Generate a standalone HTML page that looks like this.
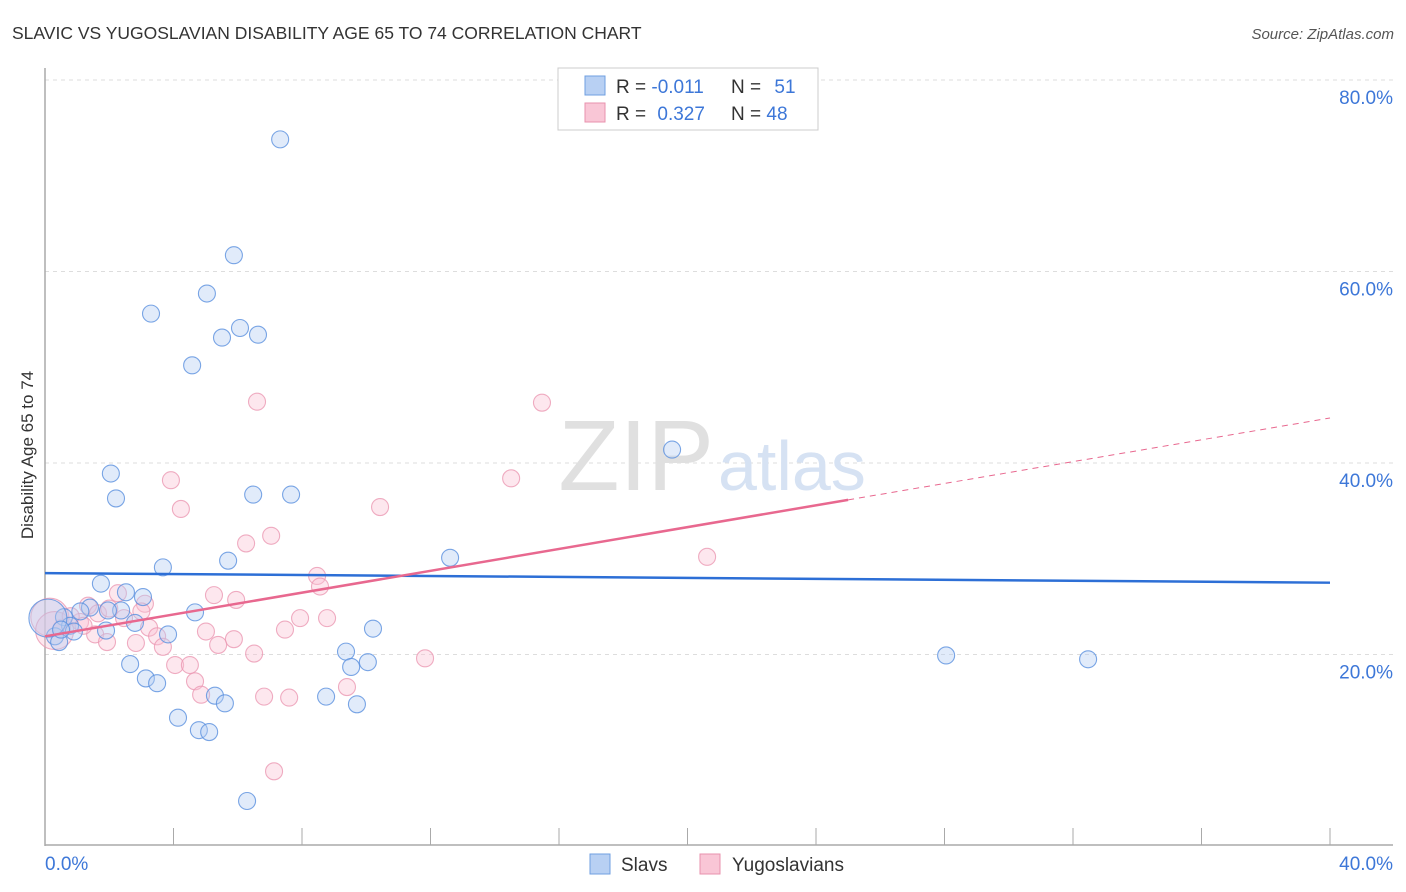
<!DOCTYPE html>
<html><head><meta charset="utf-8">
<style>
body{margin:0;background:#fff;font-family:"Liberation Sans",sans-serif;}
#wrap{position:relative;width:1406px;height:892px;overflow:hidden;}
svg text{font-family:"Liberation Sans",sans-serif;}
</style></head>
<body>
<div id="wrap">
<svg id="chart" width="1406" height="892">
<text x="12" y="39" font-size="17.5" fill="#333">SLAVIC VS YUGOSLAVIAN DISABILITY AGE 65 TO 74 CORRELATION CHART</text>
<text x="1394" y="39" font-size="15" fill="#555" font-style="italic" text-anchor="end">Source: ZipAtlas.com</text>
<text x="33" y="455" font-size="17" fill="#333" text-anchor="middle" transform="rotate(-90 33 455)">Disability Age 65 to 74</text>
<g id="grid"></g>
<g id="axes"></g>
<text x="714" y="490" font-size="100" font-family="Liberation Serif" fill="#e0e0e0" text-anchor="end">ZIP</text>
<text x="718" y="490" font-size="70" fill="#d6e2f3">atlas</text>
<g id="pts"></g>
<g id="trend"></g>
<g>
<rect x="558" y="68" width="260" height="62" fill="#fff" stroke="#ccc"/>
<rect x="585" y="76" width="20" height="19" fill="#b8d0f3" stroke="#6f9fe0"/>
<rect x="585" y="103" width="20" height="19" fill="#f9c6d6" stroke="#e892ad"/>
<text x="616" y="93" font-size="19" fill="#333">R = <tspan fill="#3d77d8">-0.011</tspan></text>
<text x="731" y="93" font-size="19" fill="#333">N = <tspan fill="#3d77d8" dx="8">51</tspan></text>
<text x="616" y="120" font-size="19" fill="#333">R = <tspan fill="#3d77d8" dx="6">0.327</tspan></text>
<text x="731" y="120" font-size="19" fill="#333">N = <tspan fill="#3d77d8">48</tspan></text>
</g>
<g>
<rect x="590" y="854" width="20" height="20" fill="#b8d0f3" stroke="#6f9fe0"/>
<text x="621" y="871" font-size="19" fill="#333">Slavs</text>
<rect x="700" y="854" width="20" height="20" fill="#f9c6d6" stroke="#e892ad"/>
<text x="732" y="871" font-size="19" fill="#333">Yugoslavians</text>
</g>
</svg>
</div>
<script>
const yTicks=[20,40,60,80];
const yTickLabels=["20.0%","40.0%","60.0%","80.0%"];
const xTicks=[0,4,8,12,16,20,24,28,32,36,40];
const slavX=[7.32,5.88,5.04,3.30,6.07,6.63,5.51,4.58,19.52,2.05,2.21,6.48,7.66,12.61,3.67,5.70,1.74,2.52,3.05,2.37,1.40,1.96,4.67,0.59,2.80,0.78,1.90,3.83,0.31,0.44,0.90,10.21,9.37,9.53,10.05,28.05,32.47,2.65,3.14,3.49,5.29,5.60,8.75,9.71,4.14,4.79,5.11,6.29,0.09,1.10,0.5];
const slavY=[73.8,61.7,57.7,55.6,54.1,53.4,53.1,50.2,41.4,38.9,36.3,36.7,36.7,30.1,29.1,29.8,27.4,26.5,26.0,24.6,24.9,24.6,24.4,23.9,23.3,23.0,22.5,22.1,21.9,21.3,22.4,22.7,20.3,18.7,19.2,19.9,19.5,19.0,17.5,17.0,15.7,14.9,15.6,14.8,13.4,12.1,11.9,4.7,23.8,24.5,22.6];
const yugoX=[6.60,15.47,14.51,3.92,4.23,10.43,7.04,6.26,20.61,8.47,8.56,5.26,2.27,5.95,3.11,1.34,7.94,8.78,1.65,2.46,1.09,0.53,3.24,5.01,7.47,3.49,1.56,5.88,1.93,2.83,3.67,5.39,6.51,11.83,4.05,4.51,4.67,9.40,4.86,6.82,7.60,7.13,0.15,0.3,2.0,1.2,0.8,3.0];
const yugoY=[46.4,46.3,38.4,38.2,35.2,35.4,32.4,31.6,30.2,28.2,27.1,26.2,26.4,25.7,25.3,25.1,23.8,23.8,24.3,23.8,23.4,22.8,22.8,22.4,22.6,21.9,22.1,21.6,21.3,21.2,20.8,21.0,20.1,19.6,18.9,18.9,17.2,16.6,15.8,15.6,15.5,7.8,23.9,22.5,24.8,23.0,24.0,24.5];
const slavTrend=[28.5,-0.025];
const yugoTrend=[21.9,0.57];
const X0=45,X1=1330,Y0=846,PY=9.575;
const sx=v=>X0+(v/40)*(X1-X0);
const sy=v=>Y0-v*PY;
const NS="http://www.w3.org/2000/svg";
function mk(tag,attrs,parent){const e=document.createElementNS(NS,tag);for(const k in attrs)e.setAttribute(k,attrs[k]);parent.appendChild(e);return e;}
const grid=document.getElementById('grid'),axes=document.getElementById('axes'),pts=document.getElementById('pts'),trend=document.getElementById('trend');
yTicks.forEach((t,i)=>{
 const l=mk('line',{x1:45,x2:1393,y1:sy(t),y2:sy(t),stroke:'#ddd','stroke-dasharray':'4,4'},grid);
 
 
 const tx=mk('text',{x:1393,y:sy(t)+24,'font-size':19,fill:'#3d77d8','text-anchor':'end'},grid);
 tx.textContent=yTickLabels[i];
 
 
});
const ya=mk('line',{x1:45,x2:45,y1:68,y2:846,stroke:'#aaa','stroke-width':1.5},axes);


const xa=mk('line',{x1:45,x2:1393,y1:845,y2:845,stroke:'#aaa','stroke-width':1.5},axes);


xTicks.forEach(t=>{
 const l=mk('line',{x1:sx(t),x2:sx(t),y1:828,y2:845,stroke:'#aaa'},axes);
 
 
});
const xl0=mk('text',{x:45,y:870,'font-size':19,fill:'#3d77d8'},axes);xl0.textContent='0.0%';


const xl1=mk('text',{x:1393,y:870,'font-size':19,fill:'#3d77d8','text-anchor':'end'},axes);xl1.textContent='40.0%';


function drawPts(xs,ys,fill,stroke,name){
 xs.forEach((x,i)=>{
  const big=(i>=xs.length-(name==='slav-point'?3:6)&&x<0.35);
  const c=mk('circle',{cx:sx(x),cy:sy(ys[i]),r:big?19:8.5,fill:fill,'fill-opacity':0.4,stroke:stroke,'stroke-opacity':0.8,'stroke-width':1.1},pts);
  
  
 });
}
drawPts(yugoX,yugoY,'#f9c4d4','#eb98b3','yugoslavian-point');
drawPts(slavX,slavY,'#b3cdf2','#5a90de','slav-point');
const sl=mk('line',{x1:sx(0),y1:sy(slavTrend[0]),x2:sx(40),y2:sy(slavTrend[0]+40*slavTrend[1]),stroke:'#2d6fd6','stroke-width':2.5},trend);


const yl=mk('line',{x1:sx(0),y1:sy(yugoTrend[0]),x2:sx(25),y2:sy(yugoTrend[0]+25*yugoTrend[1]),stroke:'#e8688f','stroke-width':2.5},trend);


const yd=mk('line',{x1:sx(25),y1:sy(yugoTrend[0]+25*yugoTrend[1]),x2:sx(40),y2:sy(yugoTrend[0]+40*yugoTrend[1]),stroke:'#e8688f','stroke-width':1,'stroke-dasharray':'6,5'},trend);


</script>
</body></html>
